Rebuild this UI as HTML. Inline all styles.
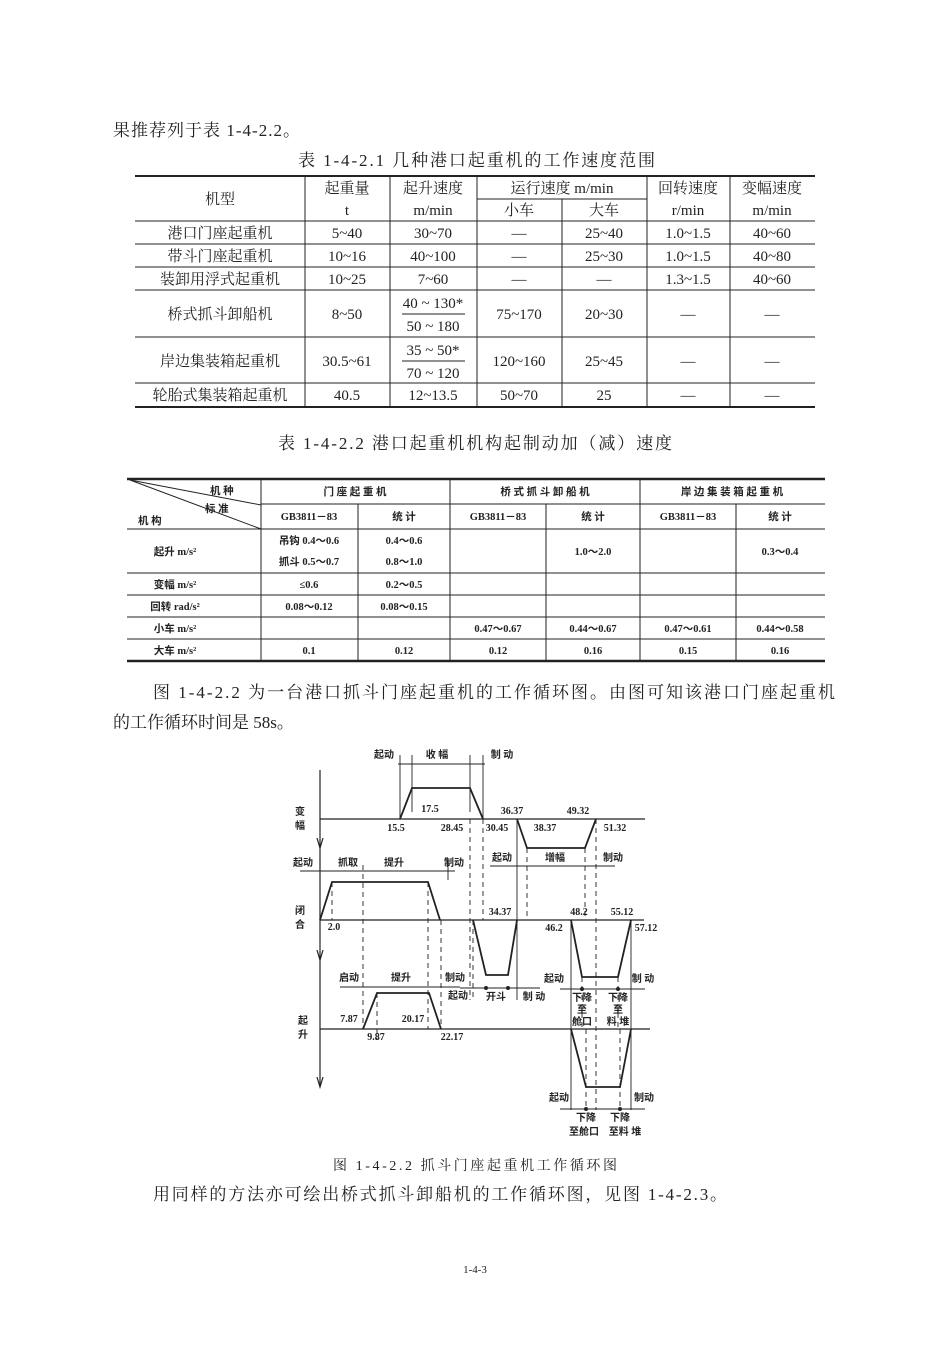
<!DOCTYPE html>
<html><head><meta charset="utf-8"><style>
html,body{margin:0;padding:0;background:#fff}
svg{display:block}
.s{font-family:"Liberation Serif","Noto Serif CJK SC",serif;fill:#222}
.b{font-family:"Liberation Serif","Noto Sans CJK SC",sans-serif;fill:#222;font-weight:bold}
</style></head><body>
<svg width="950" height="1345" viewBox="0 0 950 1345" xmlns="http://www.w3.org/2000/svg">
<g class="s" font-size="17">
<text x="113" y="136" textLength="187" lengthAdjust="spacing">果推荐列于表 1-4-2.2。</text>
<text x="298" y="166" textLength="357" lengthAdjust="spacing">表 1-4-2.1  几种港口起重机的工作速度范围</text>
<text x="278" y="449" textLength="394" lengthAdjust="spacing">表 1-4-2.2  港口起重机机构起制动加（减）速度</text>
<text x="153" y="698" textLength="682" lengthAdjust="spacing">图  1-4-2.2 为一台港口抓斗门座起重机的工作循环图。由图可知该港口门座起重机</text>
<text x="113" y="728">的工作循环时间是 58s。</text>
<text x="153" y="1200" textLength="574" lengthAdjust="spacing">用同样的方法亦可绘出桥式抓斗卸船机的工作循环图，见图 1-4-2.3。</text>
<text x="333" y="1170" font-size="14" textLength="284" lengthAdjust="spacing">图 1-4-2.2    抓斗门座起重机工作循环图</text>
<text x="475" y="1273" text-anchor="middle" font-size="11">1-4-3</text>
</g>
<!-- Table 1 -->
<g stroke="#222" fill="none">
<line x1="135" y1="176" x2="815" y2="176" stroke-width="2"/>
<line x1="135" y1="407" x2="815" y2="407" stroke-width="2"/>
<g stroke-width="1">
<line x1="477" y1="199" x2="647" y2="199"/>
<line x1="135" y1="221" x2="815" y2="221"/>
<line x1="135" y1="244" x2="815" y2="244"/>
<line x1="135" y1="267" x2="815" y2="267"/>
<line x1="135" y1="290" x2="815" y2="290"/>
<line x1="135" y1="337" x2="815" y2="337"/>
<line x1="135" y1="383" x2="815" y2="383"/>
<line x1="305" y1="176" x2="305" y2="407"/>
<line x1="390" y1="176" x2="390" y2="407"/>
<line x1="477" y1="176" x2="477" y2="407"/>
<line x1="562" y1="199" x2="562" y2="407"/>
<line x1="647" y1="176" x2="647" y2="407"/>
<line x1="730" y1="176" x2="730" y2="407"/>
<line x1="402" y1="314" x2="465" y2="314"/>
<line x1="402" y1="361" x2="465" y2="361"/>
</g></g>
<g class="s" font-size="15" text-anchor="middle">
<text x="220" y="204">机型</text>
<text x="347" y="193">起重量</text><text x="347" y="215">t</text>
<text x="433" y="193">起升速度</text><text x="433" y="215">m/min</text>
<text x="562" y="193">运行速度 m/min</text>
<text x="519" y="215">小车</text><text x="604" y="215">大车</text>
<text x="688" y="193">回转速度</text><text x="688" y="215">r/min</text>
<text x="772" y="193">变幅速度</text><text x="772" y="215">m/min</text>
<text x="220" y="238">港口门座起重机</text><text x="347" y="238">5~40</text><text x="433" y="238">30~70</text><text x="519" y="238">—</text><text x="604" y="238">25~40</text><text x="688" y="238">1.0~1.5</text><text x="772" y="238">40~60</text>
<text x="220" y="261">带斗门座起重机</text><text x="347" y="261">10~16</text><text x="433" y="261">40~100</text><text x="519" y="261">—</text><text x="604" y="261">25~30</text><text x="688" y="261">1.0~1.5</text><text x="772" y="261">40~80</text>
<text x="220" y="284">装卸用浮式起重机</text><text x="347" y="284">10~25</text><text x="433" y="284">7~60</text><text x="519" y="284">—</text><text x="604" y="284">—</text><text x="688" y="284">1.3~1.5</text><text x="772" y="284">40~60</text>
<text x="220" y="319">桥式抓斗卸船机</text><text x="347" y="319">8~50</text><text x="433" y="308">40 ~ 130*</text><text x="433" y="331">50 ~ 180</text><text x="519" y="319">75~170</text><text x="604" y="319">20~30</text><text x="688" y="319">—</text><text x="772" y="319">—</text>
<text x="220" y="366">岸边集装箱起重机</text><text x="347" y="366">30.5~61</text><text x="433" y="355">35 ~ 50*</text><text x="433" y="378">70 ~ 120</text><text x="519" y="366">120~160</text><text x="604" y="366">25~45</text><text x="688" y="366">—</text><text x="772" y="366">—</text>
<text x="220" y="400">轮胎式集装箱起重机</text><text x="347" y="400">40.5</text><text x="433" y="400">12~13.5</text><text x="519" y="400">50~70</text><text x="604" y="400">25</text><text x="688" y="400">—</text><text x="772" y="400">—</text>
</g>
<!-- Table 2 -->
<g stroke="#222" fill="none">
<line x1="127" y1="479" x2="825" y2="479" stroke-width="2.5"/>
<line x1="127" y1="661" x2="825" y2="661" stroke-width="2.5"/>
<g stroke-width="1">
<line x1="261" y1="504" x2="825" y2="504"/>
<line x1="127" y1="529" x2="825" y2="529"/>
<line x1="127" y1="573" x2="825" y2="573"/>
<line x1="127" y1="595" x2="825" y2="595"/>
<line x1="127" y1="617" x2="825" y2="617"/>
<line x1="127" y1="639" x2="825" y2="639"/>
<line x1="261" y1="479" x2="261" y2="661"/>
<line x1="358" y1="504" x2="358" y2="661"/>
<line x1="450" y1="479" x2="450" y2="661"/>
<line x1="546" y1="504" x2="546" y2="661"/>
<line x1="640" y1="479" x2="640" y2="661"/>
<line x1="736" y1="504" x2="736" y2="661"/>
<line x1="130" y1="480" x2="261" y2="505"/>
<line x1="130" y1="480" x2="261" y2="529"/>
</g></g>
<g class="b" font-size="10.5" text-anchor="middle">
<text x="210" y="494" text-anchor="start">机   种</text>
<text x="205" y="512" text-anchor="start">标   准</text>
<text x="138" y="524" text-anchor="start">机        构</text>
<text x="355" y="495">门   座   起   重   机</text>
<text x="545" y="495">桥 式 抓 斗 卸 船 机</text>
<text x="732" y="495">岸 边 集 装 箱 起 重 机</text>
<text x="309" y="520">GB3811－83</text><text x="404" y="520">统   计</text>
<text x="498" y="520">GB3811－83</text><text x="593" y="520">统   计</text>
<text x="688" y="520">GB3811－83</text><text x="780" y="520">统   计</text>
<text x="175" y="555">起升 m/s²</text>
<text x="309" y="544">吊钩 0.4～0.6</text><text x="404" y="544">0.4～0.6</text>
<text x="309" y="565">抓斗 0.5～0.7</text><text x="404" y="565">0.8～1.0</text>
<text x="593" y="555">1.0～2.0</text><text x="780" y="555">0.3～0.4</text>
<text x="175" y="588">变幅 m/s²</text><text x="309" y="588">≤0.6</text><text x="404" y="588">0.2～0.5</text>
<text x="175" y="610">回转 rad/s²</text><text x="309" y="610">0.08～0.12</text><text x="404" y="610">0.08～0.15</text>
<text x="175" y="632">小车 m/s²</text><text x="498" y="632">0.47～0.67</text><text x="593" y="632">0.44～0.67</text><text x="688" y="632">0.47～0.61</text><text x="780" y="632">0.44～0.58</text>
<text x="175" y="654">大车 m/s²</text><text x="309" y="654">0.1</text><text x="404" y="654">0.12</text><text x="498" y="654">0.12</text><text x="593" y="654">0.16</text><text x="688" y="654">0.15</text><text x="780" y="654">0.16</text>
</g>
<!-- Diagram -->
<g stroke="#222" fill="none" stroke-width="1.2">
<line x1="320" y1="770" x2="320" y2="1087"/>
<path d="M317,838 L320,848 L323,838 M317,950 L320,960 L323,950 M317,1077 L320,1087 L323,1077"/>
<line x1="320" y1="819" x2="645" y2="819"/>
<line x1="320" y1="920" x2="644" y2="920"/>
<line x1="320" y1="1029" x2="650" y2="1029"/>
<g stroke-width="1.8">
<polyline points="400,819 412,788 470,788 483,819"/>
<polyline points="517,819 527,848 585,848 596,819"/>
<polyline points="320,920 332,882 428,882 440,920"/>
<polyline points="473,920 486,975 508,975 517,920"/>
<polyline points="571,920 582,977 618,977 631,920"/>
<polyline points="363,1029 377,993 429,993 441,1029"/>
<polyline points="571,1029 586,1087 620,1087 631,1029"/>
</g>
<g stroke-width="0.9">
<line x1="400" y1="755" x2="400" y2="819"/><line x1="412" y1="755" x2="412" y2="812"/>
<line x1="470" y1="755" x2="470" y2="812"/><line x1="483" y1="755" x2="483" y2="819"/>
<line x1="398" y1="764" x2="485" y2="764"/>
<line x1="300" y1="871" x2="455" y2="871"/>
<line x1="490" y1="866" x2="615" y2="866"/>
<line x1="340" y1="987" x2="460" y2="987"/>
<line x1="460" y1="988" x2="540" y2="988"/>
<line x1="560" y1="989" x2="645" y2="989"/>
<line x1="560" y1="1109" x2="645" y2="1109"/>
<line x1="517" y1="819" x2="517" y2="1000"/>
<line x1="571" y1="920" x2="571" y2="1110"/>
<line x1="631" y1="920" x2="631" y2="1110"/>
<line x1="448" y1="860" x2="448" y2="880"/>
</g>
<g stroke-dasharray="5,4" stroke-width="0.9">
<line x1="470" y1="819" x2="470" y2="1000"/>
<line x1="483" y1="819" x2="483" y2="920"/>
<line x1="473" y1="920" x2="473" y2="1000"/>
<line x1="527" y1="848" x2="527" y2="920"/>
<line x1="363" y1="865" x2="363" y2="1029"/>
<line x1="377" y1="993" x2="377" y2="1040"/>
<line x1="428" y1="882" x2="428" y2="1029"/>
<line x1="441" y1="920" x2="441" y2="1029"/>
<line x1="332" y1="882" x2="332" y2="920"/>
<line x1="585" y1="848" x2="585" y2="920"/>
<line x1="596" y1="819" x2="596" y2="1110"/>
<line x1="582" y1="977" x2="582" y2="1029"/>
<line x1="618" y1="977" x2="618" y2="1029"/>
<line x1="586" y1="1029" x2="586" y2="1110"/>
<line x1="620" y1="1029" x2="620" y2="1110"/>
</g>
</g>
<g fill="#222">
<circle cx="486" cy="988" r="2"/><circle cx="508" cy="988" r="2"/>
<circle cx="582" cy="989" r="2"/><circle cx="618" cy="989" r="2"/>
<circle cx="586" cy="1109" r="2"/><circle cx="620" cy="1109" r="2"/>
</g>
<g class="b" font-size="10" text-anchor="middle">
<text x="384" y="758">起动</text><text x="437" y="758">收 幅</text><text x="502" y="758">制 动</text>
<text x="300" y="815">变</text><text x="300" y="829">幅</text>
<text x="300" y="914">闭</text><text x="300" y="928">合</text>
<text x="303" y="1024">起</text><text x="303" y="1038">升</text>
<text x="430" y="812">17.5</text><text x="396" y="831">15.5</text><text x="452" y="831">28.45</text>
<text x="512" y="814">36.37</text><text x="497" y="831">30.45</text><text x="545" y="831">38.37</text>
<text x="578" y="814">49.32</text><text x="615" y="831">51.32</text>
<text x="502" y="861">起动</text><text x="555" y="861">增幅</text><text x="613" y="861">制动</text>
<text x="303" y="866">起动</text><text x="348" y="866">抓取</text><text x="394" y="866">提升</text><text x="454" y="866">制动</text>
<text x="334" y="930">2.0</text>
<text x="500" y="915">34.37</text><text x="579" y="915">48.2</text><text x="622" y="915">55.12</text>
<text x="554" y="931">46.2</text><text x="646" y="931">57.12</text>
<text x="349" y="981">启动</text><text x="401" y="981">提升</text><text x="455" y="981">制动</text>
<text x="458" y="999">起动</text><text x="496" y="1000">开斗</text><text x="534" y="1000">制 动</text>
<text x="554" y="982">起动</text><text x="643" y="982">制 动</text>
<text x="582" y="1001">下降</text><text x="582" y="1013">至</text><text x="582" y="1025">舱口</text>
<text x="618" y="1001">下降</text><text x="618" y="1013">至</text><text x="618" y="1025">料 堆</text>
<text x="349" y="1022">7.87</text><text x="376" y="1040">9.87</text><text x="413" y="1022">20.17</text><text x="452" y="1040">22.17</text>
<text x="559" y="1101">起动</text><text x="644" y="1101">制动</text>
<text x="586" y="1121">下降</text><text x="620" y="1121">下降</text>
<text x="584" y="1135">至舱口</text><text x="625" y="1135">至料 堆</text>
</g>
</svg>
</body></html>
